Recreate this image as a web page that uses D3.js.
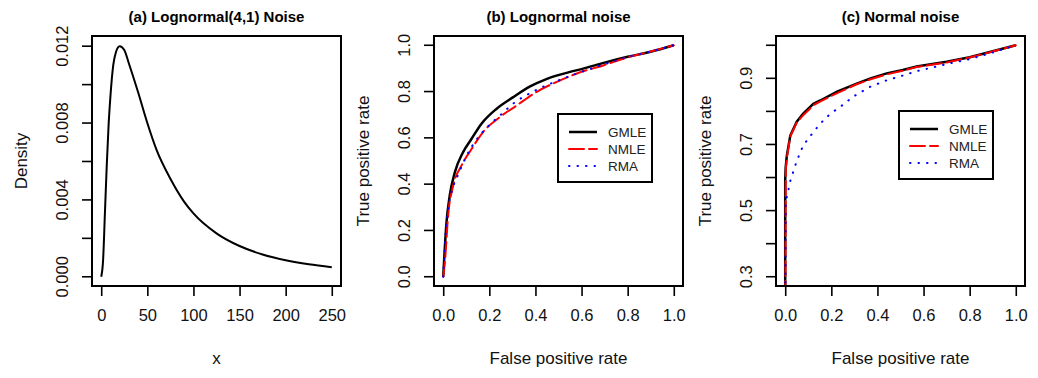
<!DOCTYPE html>
<html>
<head>
<meta charset="utf-8">
<script src="https://cdn.jsdelivr.net/npm/d3@7"></script>
<style>
  body { margin: 0; background: #fff; }
  svg { font-family: "Liberation Sans", Arial, Helvetica, sans-serif; }
</style>
</head>
<body>
<svg id="fig" width="1038" height="378"></svg>
<script>
// panel (a): lognormal(4,1) density
var densX = [0, 2, 4, 6, 8, 10, 13, 16, 20, 25, 30, 40, 50, 60, 75, 90, 100, 125, 150, 175, 200, 225, 250];
var densY = [0, 0.00084, 0.0033, 0.0058, 0.0079, 0.0094, 0.0110, 0.0117, 0.0120, 0.0118, 0.0111, 0.0096,
             0.0080, 0.0066, 0.0051, 0.0039, 0.0033, 0.00226, 0.0016, 0.00116, 0.00086, 0.00065, 0.0005];

// panel (b): lognormal noise ROC curves
var bGmleFpr = [0, 0.014, 0.028, 0.05, 0.086, 0.123, 0.166, 0.232, 0.304, 0.377, 0.45, 0.551, 0.6, 0.7, 0.8, 0.9, 1];
var bGmleTpr = [0, 0.233, 0.349, 0.45, 0.538, 0.596, 0.661, 0.726, 0.776, 0.822, 0.855, 0.885, 0.897, 0.925, 0.95, 0.972, 1];
var bNmleFpr = [0, 0.007, 0.021, 0.043, 0.079, 0.123, 0.173, 0.246, 0.319, 0.406, 0.493, 0.58, 0.7, 0.8, 0.9, 1];
var bNmleTpr = [0, 0.06, 0.262, 0.393, 0.48, 0.552, 0.625, 0.69, 0.74, 0.799, 0.842, 0.878, 0.915, 0.948, 0.973, 1];
var bRmaFpr = [0, 0.01, 0.02, 0.04, 0.06, 0.1, 0.15, 0.2, 0.25, 0.3, 0.4, 0.5, 0.6, 0.7, 0.8, 0.9, 1];
var bRmaTpr = [0, 0.18, 0.28, 0.38, 0.43, 0.52, 0.6, 0.655, 0.7, 0.745, 0.805, 0.848, 0.885, 0.918, 0.949, 0.973, 1];

// panel (c): normal noise ROC curves
var cGmleFpr = [0, 0, 0.002, 0.007, 0.022, 0.05, 0.078, 0.122, 0.152, 0.225, 0.31, 0.37, 0.44, 0.51, 0.57, 0.7, 0.8, 0.9, 1];
var cGmleTpr = [0, 0.595, 0.63, 0.666, 0.727, 0.769, 0.793, 0.823, 0.833, 0.86, 0.884, 0.9, 0.915, 0.925, 0.936, 0.95, 0.964, 0.982, 1];
var cNmleFpr = [0, 0.002, 0.003, 0.008, 0.022, 0.05, 0.08, 0.125, 0.155, 0.23, 0.31, 0.37, 0.44, 0.51, 0.57, 0.7, 0.8, 0.9, 1];
var cNmleTpr = [0, 0.58, 0.63, 0.664, 0.724, 0.766, 0.79, 0.82, 0.831, 0.857, 0.882, 0.897, 0.912, 0.923, 0.934, 0.948, 0.963, 0.981, 1];
var cRmaFpr = [0, 0.002, 0.022, 0.05, 0.078, 0.116, 0.152, 0.196, 0.239, 0.296, 0.37, 0.44, 0.513, 0.573, 0.7, 0.8, 0.9, 1];
var cRmaTpr = [0, 0.525, 0.59, 0.65, 0.697, 0.732, 0.763, 0.793, 0.814, 0.845, 0.875, 0.894, 0.909, 0.922, 0.943, 0.958, 0.978, 1];

var legendNames = ["GMLE", "NMLE", "RMA"];
var legendColors = ["#000000", "#ff0000", "#0000ff"];
var legendDash = [null, "15 5", "0.5 8"];

var svg = d3.select("#fig");

function zip(a, b) { return a.map(function(d, i) { return [d, b[i]]; }); }

function panel(o) {
    var g = svg.append("g");
    var x = d3.scaleLinear().domain(o.xdom).range([o.left, o.left + 249]);
    var y = d3.scaleLinear().domain(o.ydom).range([286, 36]);

    var clipId = "clip" + o.id;
    g.append("clipPath").attr("id", clipId)
     .append("rect").attr("x", o.left).attr("y", 36).attr("width", 249).attr("height", 250);

    var line = d3.line()
                 .x(function(d) { return x(d[0]); })
                 .y(function(d) { return y(d[1]); })
                 .curve(o.curve || d3.curveLinear);

    o.series.forEach(function(s) {
        g.append("path")
         .attr("clip-path", "url(#" + clipId + ")")
         .attr("d", line(s.pts))
         .attr("fill", "none")
         .attr("stroke", s.color)
         .attr("stroke-width", s.width || 2)
         .attr("stroke-dasharray", s.dash)
         .attr("stroke-linecap", s.dash ? "round" : "butt");
    });

    // axes, R style
    var xa = g.append("g").attr("transform", "translate(0,286)")
              .call(d3.axisBottom(x).tickValues(o.xticks).tickSize(10).tickPadding(13).tickFormat(o.xfmt));
    var ya = g.append("g").attr("transform", "translate(" + o.left + ",0)")
              .call(d3.axisLeft(y).tickValues(o.yticks).tickSize(10).tickPadding(0)
                      .tickFormat(function(d) { return o.ylabels.indexOf(d) >= 0 ? o.yfmt(d) : ""; }));
    [xa, ya].forEach(function(a) {
        a.select(".domain").remove();
        a.selectAll(".tick line").attr("stroke", "#000").attr("stroke-width", 1.6);
        a.selectAll(".tick text").attr("fill", "#111").style("font-size", "16.5px");
    });
    // rotate the y labels like R's default las=0
    ya.selectAll(".tick").attr("transform", null);
    ya.selectAll(".tick line").attr("transform", function(d) { return "translate(0," + y(d) + ")"; });
    ya.selectAll(".tick text")
      .attr("text-anchor", "middle")
      .attr("x", null).attr("y", 0).attr("dy", "0.35em")
      .attr("transform", function(d) { return "translate(-30," + y(d) + ") rotate(-90)"; });

    g.append("rect")
     .attr("x", o.left).attr("y", 36).attr("width", 249).attr("height", 250)
     .attr("fill", "none").attr("stroke", "#000").attr("stroke-width", 2);

    g.append("text")
     .attr("x", o.left + 124.5).attr("y", 22)
     .attr("text-anchor", "middle")
     .style("font-size", "15px").style("font-weight", "bold")
     .text(o.title);
    g.append("text")
     .attr("x", o.left + 124.5).attr("y", 364)
     .attr("text-anchor", "middle")
     .attr("fill", "#111")
     .style("font-size", "17px")
     .text(o.xlab);
    g.append("text")
     .attr("transform", "translate(" + (o.left - 71) + ",161) rotate(-90)")
     .attr("text-anchor", "middle")
     .attr("dy", "0.35em")
     .attr("fill", "#111")
     .style("font-size", "17px")
     .text(o.ylab);

    if (o.legend) {
        var lg = g.append("g").attr("transform", "translate(" + o.legend[0] + "," + o.legend[1] + ")");
        lg.append("rect").attr("width", 94).attr("height", 68)
          .attr("fill", "#fff").attr("stroke", "#000").attr("stroke-width", 2);
        legendNames.forEach(function(n, i) {
            var yy = 18 + i * 17;
            lg.append("line").attr("x1", 11).attr("x2", 39).attr("y1", yy).attr("y2", yy)
              .attr("stroke", legendColors[i]).attr("stroke-width", i === 0 ? 2.5 : 2)
              .attr("stroke-dasharray", legendDash[i])
              .attr("stroke-linecap", legendDash[i] ? "round" : "butt");
            lg.append("text").attr("x", 50).attr("y", yy).attr("dy", "0.36em")
              .style("font-size", "13.5px").attr("fill", "#222").text(n);
        });
    }
}

var rocSeries = function(f1, t1, f2, t2, f3, t3) {
    return [
        { pts: zip(f1, t1), color: legendColors[0], width: 2.5 },
        { pts: zip(f2, t2), color: legendColors[1], dash: legendDash[1] },
        { pts: zip(f3, t3), color: legendColors[2], dash: legendDash[2] }
    ];
};

var fmt1 = d3.format(".1f");

panel({
    id: "a", left: 92,
    xdom: [-10, 260], ydom: [-0.00048, 0.01253],
    xticks: [0, 50, 100, 150, 200, 250], xfmt: d3.format("d"),
    yticks: [0, 0.002, 0.004, 0.006, 0.008, 0.01, 0.012], ylabels: [0, 0.004, 0.008, 0.012], yfmt: d3.format(".3f"),
    title: "(a) Lognormal(4,1) Noise", xlab: "x", ylab: "Density",
    curve: d3.curveMonotoneX,
    series: [{ pts: zip(densX, densY), color: "#000", width: 2 }]
});

panel({
    id: "b", left: 434,
    xdom: [-0.04, 1.04], ydom: [-0.04, 1.04],
    xticks: [0, 0.2, 0.4, 0.6, 0.8, 1], xfmt: fmt1,
    yticks: [0, 0.2, 0.4, 0.6, 0.8, 1], ylabels: [0, 0.2, 0.4, 0.6, 0.8, 1], yfmt: fmt1,
    title: "(b) Lognormal noise", xlab: "False positive rate", ylab: "True positive rate",
    curve: d3.curveMonotoneX,
    series: rocSeries(bGmleFpr, bGmleTpr, bNmleFpr, bNmleTpr, bRmaFpr, bRmaTpr),
    legend: [558, 114]
});

panel({
    id: "c", left: 776,
    xdom: [-0.04, 1.04], ydom: [0.272, 1.028],
    xticks: [0, 0.2, 0.4, 0.6, 0.8, 1], xfmt: fmt1,
    yticks: [0.3, 0.4, 0.5, 0.6, 0.7, 0.8, 0.9, 1], ylabels: [0.3, 0.5, 0.7, 0.9], yfmt: fmt1,
    title: "(c) Normal noise", xlab: "False positive rate", ylab: "True positive rate",
    series: rocSeries(cGmleFpr, cGmleTpr, cNmleFpr, cNmleTpr, cRmaFpr, cRmaTpr),
    legend: [899, 111]
});
</script>
</body>
</html>
